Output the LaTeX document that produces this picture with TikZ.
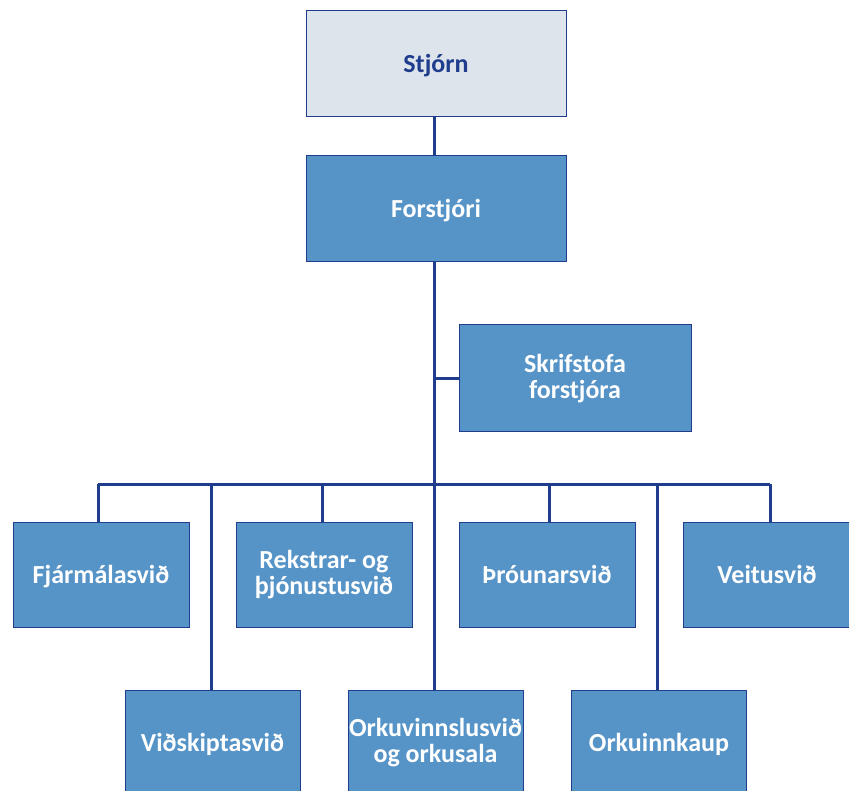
\documentclass[tikz,border=0pt]{standalone}
\usepackage{fontspec}
\setmainfont{Carlito}
\definecolor{linec}{HTML}{1F3D8C}
\definecolor{boxf}{HTML}{5694C8}
\definecolor{topf}{HTML}{DDE4EC}
\begin{document}
\begin{tikzpicture}[x=1pt,y=-1pt,
  box/.style={draw=linec,line width=1pt,fill=boxf,text=white,align=center,
    font=\fontsize{26}{26}\selectfont\bfseries,inner sep=0pt},
  oneline/.style={text height=17pt,text depth=0pt},
  conn/.style={draw=linec,line width=3pt}]
\useasboundingbox (0,0) rectangle (849,791);
\clip (0,0) rectangle (849,791);
\fill[white] (0,0) rectangle (849,791);
% boxes
\node[box,oneline,fill=topf,text=linec,minimum width=260pt,minimum height=106pt] (stjorn) at (436,64) {Stjórn};
\node[box,oneline,minimum width=260pt,minimum height=106pt] (forstjori) at (436,209) {Forstjóri};
\node[box,minimum width=232pt,minimum height=107pt] (skrif) at (575,378.5) {Skrifstofa\\forstjóra};
\node[box,oneline,minimum width=176pt,minimum height=105pt] (fjar) at (101,574.5) {Fjármálasvið};
\node[box,minimum width=176pt,minimum height=105pt] (rekstrar) at (324,574.5) {Rekstrar- og\\þjónustusvið};
\node[box,oneline,minimum width=176pt,minimum height=105pt] (throun) at (547,574.5) {Þróunarsvið};
\node[box,oneline,minimum width=168pt,minimum height=105pt] (veitus) at (767,574.5) {Veitusvið};
\node[box,oneline,minimum width=175pt,minimum height=106pt] (vidsk) at (212.5,743) {Viðskiptasvið};
\node[box,minimum width=175pt,minimum height=106pt] (orkuv) at (435.5,743) {Orkuvinnslusvið\\og orkusala};
\node[box,oneline,minimum width=175pt,minimum height=106pt] (orkui) at (659,743) {Orkuinnkaup};
% bus coordinates
\coordinate (bus) at (434,484);
\coordinate (d1) at (98,484);
\coordinate (d2) at (211,484);
\coordinate (d3) at (322,484);
\coordinate (d5) at (549,484);
\coordinate (d6) at (657,484);
\coordinate (d7) at (770,484);
% connectors
\draw[conn] (stjorn.south -| bus) -- (forstjori.north -| bus);
\draw[conn] (forstjori.south -| bus) -- (orkuv.north -| bus);
\draw[conn] (skrif.west -| bus) -- (skrif.west);
\draw[conn] (d1) -- (d7);
\draw[conn] (d1) -- (d1 |- fjar.north);
\draw[conn] (d2) -- (d2 |- vidsk.north);
\draw[conn] (d3) -- (d3 |- rekstrar.north);
\draw[conn] (d5) -- (d5 |- throun.north);
\draw[conn] (d6) -- (d6 |- orkui.north);
\draw[conn] (d7) -- (d7 |- veitus.north);
\end{tikzpicture}
\end{document}
